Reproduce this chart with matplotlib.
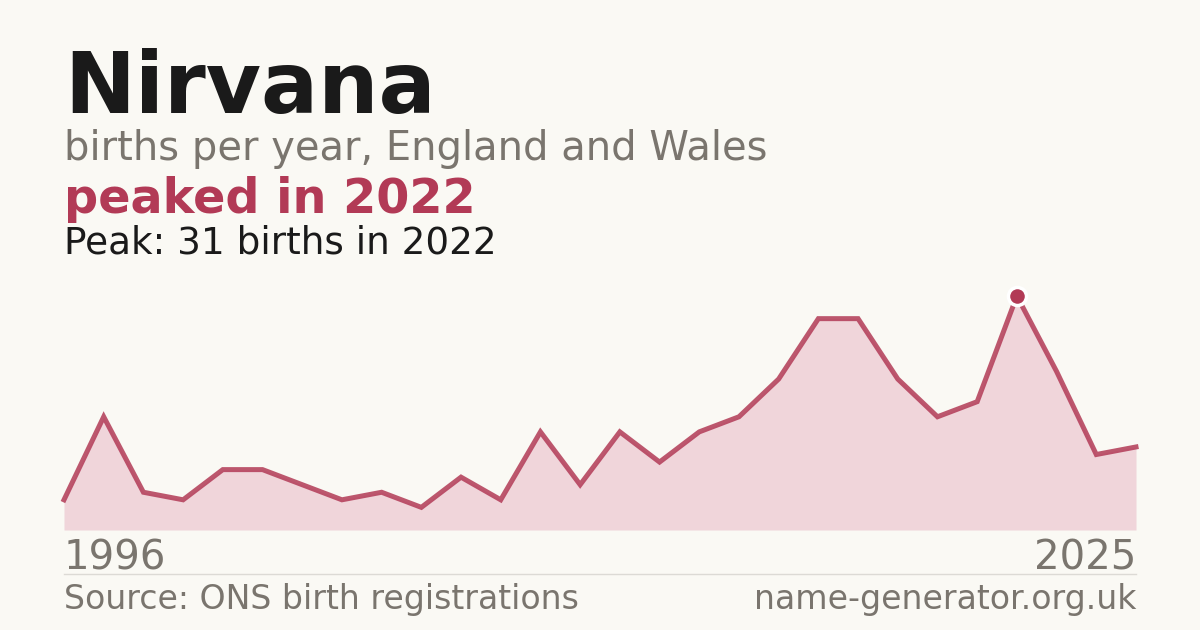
import numpy as np
import matplotlib.pyplot as plt

# births per year
births = [4, 15, 5, 4, 8, 8, 6, 4, 5, 3, 7, 4, 13, 6, 13, 9, 13, 15,
          20, 28, 28, 20, 15, 17, 31, 21, 10, 11]
first_year = "1996"
last_year = "2025"
peak_year = "2022"

name = "Nirvana"
subtitle = "births per year, England and Wales"
source = "Source: ONS birth registrations"
site = "name-generator.org.uk"

bg = "#faf9f4"
red = "#b23a56"
fill = "#f0d5da"
grey = "#7a756e"
dark = "#1a1a1a"

W, H = 1200, 630
fig = plt.figure(figsize=(W / 100, H / 100), dpi=100, facecolor=bg)


def fx(px):
    return px / W


def fy(py):
    return 1 - py / H


# chart area: x 64..1136, y 530 (zero) .. 296 (peak)
ax = fig.add_axes([fx(64), fy(530), fx(1136) - fx(64), (530 - 296) / H])
ax.set_facecolor(bg)
x = np.arange(len(births))
peak = int(np.argmax(births))

ax.fill_between(x, births, 0, color=fill, lw=0)
ax.plot(x, births, color=red, lw=3.6, alpha=0.85, solid_joinstyle="miter",
        clip_on=False)
ax.plot(x[peak], births[peak], "o", ms=13, color=red, mec="white", mew=2.5,
        clip_on=False, zorder=5)
ax.set_xlim(0, len(births) - 1)
ax.set_ylim(0, max(births))
ax.axis("off")

# titles
fig.text(fx(64), fy(112.7), name, fontsize=61, fontweight="bold", color=dark,
         va="baseline", ha="left")
fig.text(fx(64), fy(160), subtitle, fontsize=28.8, color=grey,
         va="baseline", ha="left")
fig.text(fx(64), fy(213.3), f"peaked in {peak_year}", fontsize=34.4,
         fontweight="bold", color=red, va="baseline", ha="left")
fig.text(fx(64), fy(253.3), f"Peak: {births[peak]} births in {peak_year}",
         fontsize=26.9, color=dark, va="baseline", ha="left")

# year labels
fig.text(fx(64), fy(570), first_year, fontsize=29, color=grey,
         va="baseline", ha="left")
fig.text(fx(1136), fy(570), last_year, fontsize=29, color=grey,
         va="baseline", ha="right")

# separator and footer
fig.add_artist(plt.Line2D([fx(64), fx(1136)], [fy(574), fy(574)],
                          color="#dcdad5", lw=1))
fig.text(fx(64), fy(609.3), source, fontsize=23.9, color=grey,
         va="baseline", ha="left")
fig.text(fx(1136), fy(609.3), site, fontsize=23.9, color=grey,
         va="baseline", ha="right")

fig.savefig("out.png", dpi=100, facecolor=bg)
